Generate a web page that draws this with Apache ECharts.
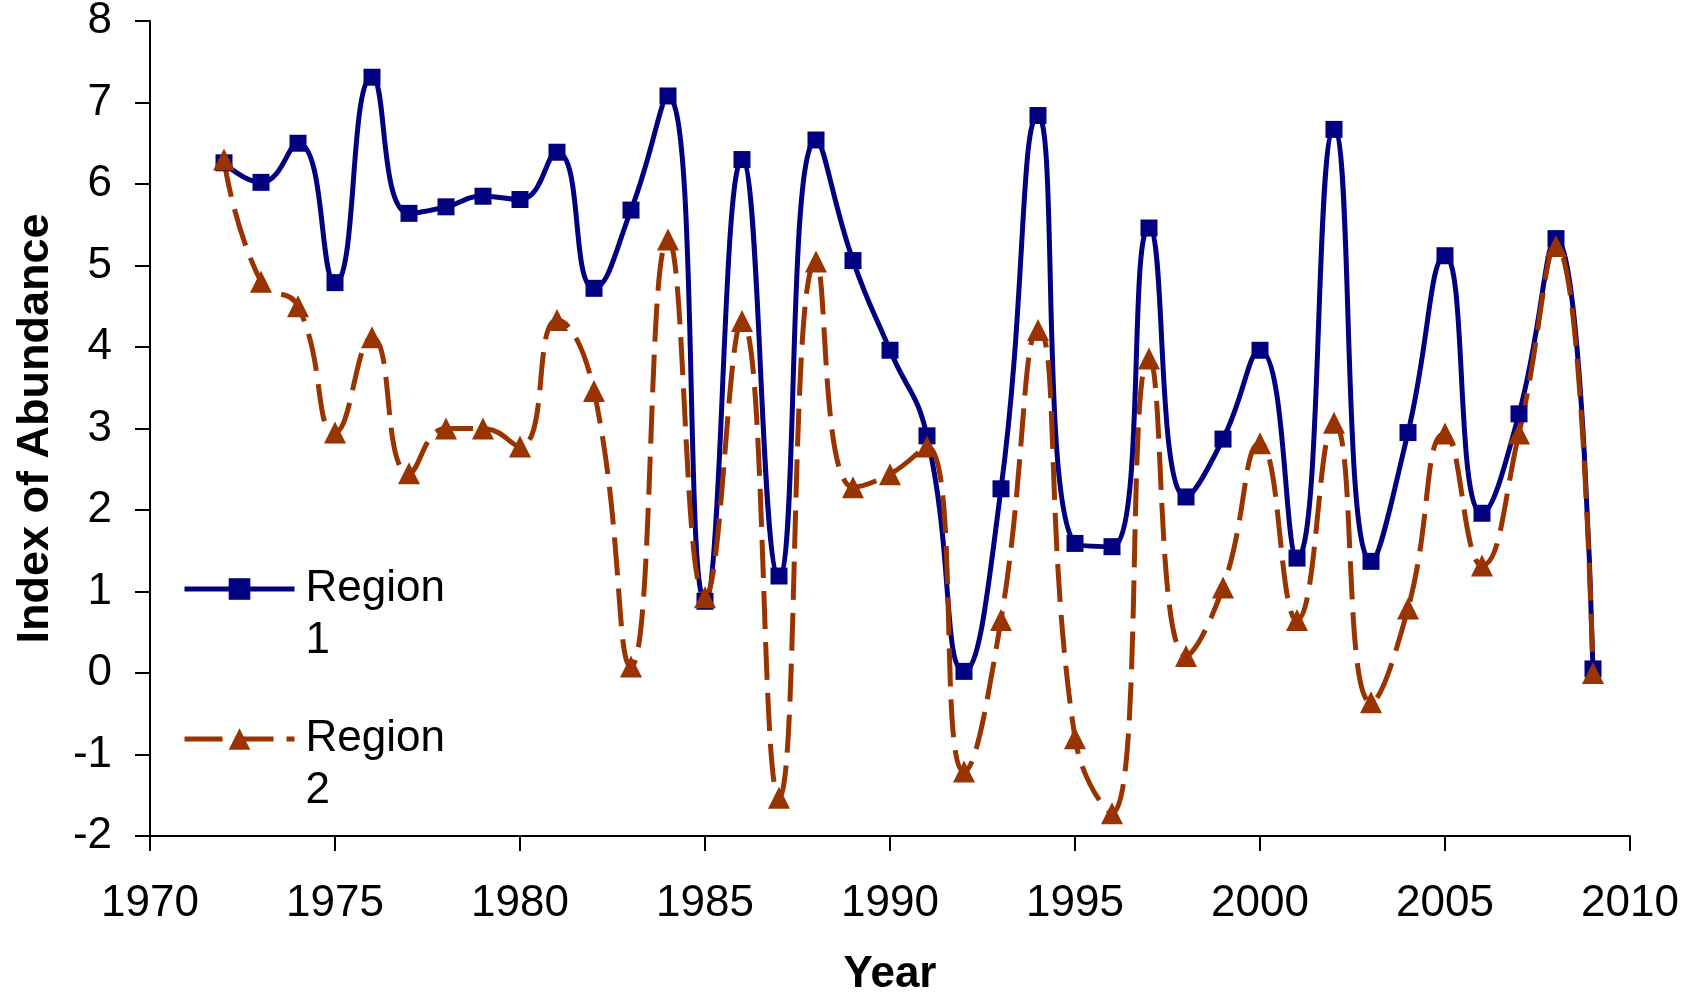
<!DOCTYPE html>
<html>
<head>
<meta charset="utf-8">
<script src="https://cdn.jsdelivr.net/npm/echarts@6/dist/echarts.min.js"></script>
<style>
html,body{margin:0;padding:0;background:#fff;}
#chart{width:1698px;height:994px;}
</style>
</head>
<body>
<div id="chart"></div>
<script>
var years = [1972,1973,1974,1975,1976,1977,1978,1979,1980,1981,1982,1983,1984,1985,1986,1987,1988,1989,1990,1991,1992,1993,1994,1995,1996,1997,1998,1999,2000,2001,2002,2003,2004,2005,2006,2007,2008,2009];
var region1 = [6.26,6.02,6.50,4.79,7.31,5.64,5.72,5.85,5.81,6.39,4.72,5.68,7.08,0.88,6.30,1.19,6.54,5.06,3.96,2.91,0.02,2.26,6.84,1.59,1.55,5.46,2.16,2.87,3.96,1.41,6.67,1.37,2.95,5.12,1.96,3.18,5.33,0.05];
var region2 = [6.30,4.80,4.50,2.95,4.12,2.45,3.00,3.00,2.78,4.33,3.46,0.08,5.32,0.93,4.32,-1.53,5.05,2.28,2.44,2.78,-1.21,0.65,4.21,-0.80,-1.72,3.86,0.21,1.05,2.82,0.65,3.07,-0.36,0.79,2.94,1.32,2.94,5.24,0.00];
var seriesNames = ['Region 1','Region 2'];
var xTitle = 'Year';
var yTitle = 'Index of Abundance';

function pairs(vals){ return years.map(function(y,i){ return [y, vals[i]]; }); }

var FONT = 'Liberation Sans, Arial, sans-serif';
var chart = echarts.init(document.getElementById('chart'), null, {renderer:'canvas'});
function legendFmt(n){
  var parts = n.split(' ');
  return '\n{r|' + parts[0] + '}\n{r|' + parts[1] + '}';
}
var legendText = {
  fontFamily: FONT, fontSize: 44, color: '#000', lineHeight: 52,
  rich: {r: {fontFamily: FONT, fontSize: 44, color: '#000', lineHeight: 52, padding: [0, 0, 0, 6]}}
};
function legendItem(name, top){
  return {data: [name], left: 182, top: top, orient: 'vertical', padding: 0,
    itemWidth: 110, itemHeight: 27, itemGap: 0,
    lineStyle: {width: 5},
    formatter: legendFmt, textStyle: legendText};
}
chart.setOption({
  animation: false,
  backgroundColor: '#fff',
  grid: {left: 150, right: 68, top: 21, bottom: 158, containLabel: false, outerBoundsMode: 'none'},
  legend: [legendItem(seriesNames[0], 511), legendItem(seriesNames[1], 661)],
  xAxis: {
    type: 'value', min: 1970, max: 2010, interval: 5,
    name: xTitle, nameLocation: 'middle', nameGap: 117,
    nameTextStyle: {fontFamily: FONT, fontSize: 44, fontWeight: 'bold', color: '#000'},
    axisLine: {onZero: false, lineStyle: {color: '#000', width: 2}},
    axisTick: {show: true, inside: false, length: 15, lineStyle: {color: '#000', width: 2}},
    axisLabel: {fontFamily: FONT, fontSize: 44, color: '#000', margin: 46,
      formatter: function(v){ return String(v); }},
    splitLine: {show: false}
  },
  yAxis: {
    type: 'value', min: -2, max: 8, interval: 1,
    name: yTitle, nameLocation: 'middle', nameRotate: 90, nameGap: 92,
    nameTextStyle: {fontFamily: FONT, fontSize: 45, fontWeight: 'bold', color: '#000'},
    axisLine: {show: true, onZero: false, lineStyle: {color: '#000', width: 2}},
    axisTick: {show: true, inside: false, length: 15, lineStyle: {color: '#000', width: 2}},
    axisLabel: {fontFamily: FONT, fontSize: 44, color: '#000', margin: 38},
    splitLine: {show: false}
  },
  series: [
    {name: seriesNames[0], type: 'line', data: pairs(region1), smooth: 0.5,
     symbol: 'rect', symbolSize: 17, showSymbol: true,
     itemStyle: {color: '#000080'},
     lineStyle: {color: '#000080', width: 5}},
    {name: seriesNames[1], type: 'line', data: pairs(region2), smooth: 0.5,
     symbol: 'triangle', symbolSize: 22, showSymbol: true,
     itemStyle: {color: '#993300'},
     lineStyle: {color: '#993300', width: 5, type: [38, 13]}}
  ]
});
</script>
</body>
</html>
